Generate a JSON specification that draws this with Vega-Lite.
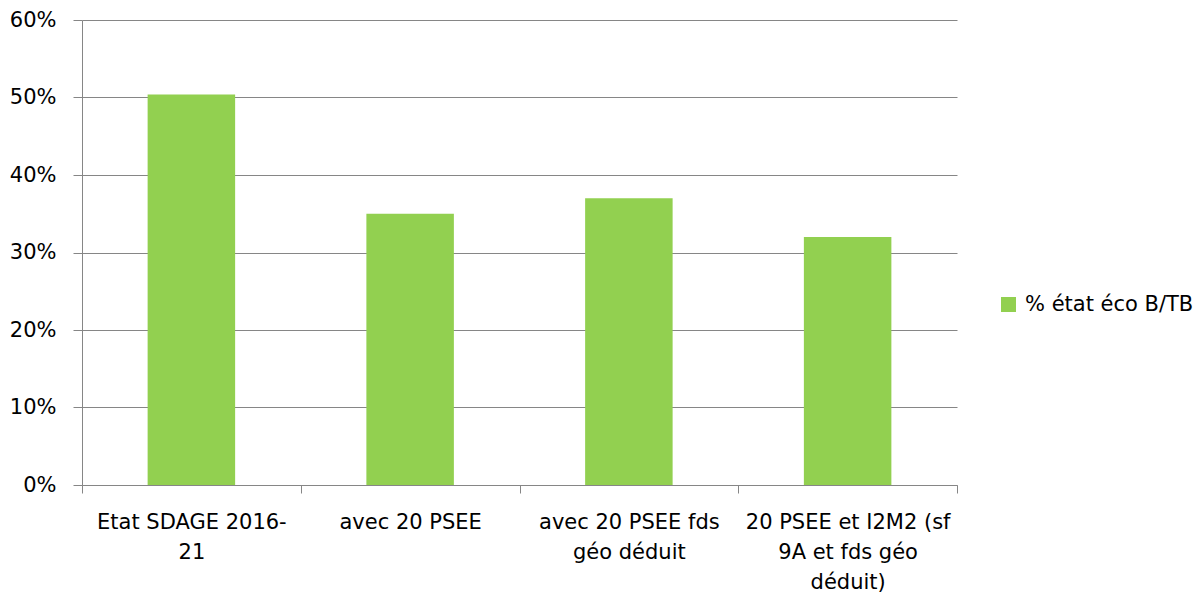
{
  "$schema": "https://vega.github.io/schema/vega-lite/v6.json",
  "autosize": {"type": "none"},
  "width": 875,
  "height": 465,
  "padding": {"left": 82, "top": 20, "right": 237, "bottom": 111},
  "background": "white",
  "config": {
    "view": {"stroke": null},
    "font": "DejaVu Sans",
    "axis": {"labelFont": "DejaVu Sans", "labelFontSize": 21, "labelColor": "#000000", "domainColor": "#868686", "tickColor": "#868686", "gridColor": "#868686", "domainWidth": 1, "tickWidth": 1, "gridWidth": 1}
  },
  "data": {
    "values": [
      {"categorie": "Etat SDAGE 2016-21", "serie": "% état éco B/TB", "valeur": 0.504},
      {"categorie": "avec 20 PSEE", "serie": "% état éco B/TB", "valeur": 0.35},
      {"categorie": "avec 20 PSEE fds géo déduit", "serie": "% état éco B/TB", "valeur": 0.37},
      {"categorie": "20 PSEE et I2M2 (sf 9A et fds géo déduit)", "serie": "% état éco B/TB", "valeur": 0.32}
    ]
  },
  "mark": {"type": "bar", "width": {"band": 0.4}},
  "encoding": {
    "x": {
      "field": "categorie",
      "type": "nominal",
      "sort": null,
      "scale": {"paddingInner": 0, "paddingOuter": 0},
      "axis": {
        "title": null,
        "labelAngle": 0,
        "tickBand": "extent",
        "tickSize": 8,
        "labelPadding": 18,
        "labelBaseline": "top",
        "labelLineHeight": 30,
        "labelLimit": 300,
        "labelExpr": "datum.value == 'Etat SDAGE 2016-21' ? ['Etat SDAGE 2016-', '21'] : datum.value == 'avec 20 PSEE fds géo déduit' ? ['avec 20 PSEE fds', 'géo déduit'] : datum.value == '20 PSEE et I2M2 (sf 9A et fds géo déduit)' ? ['20 PSEE et I2M2 (sf', '9A et fds géo', 'déduit)'] : datum.value"
      }
    },
    "y": {
      "field": "valeur",
      "type": "quantitative",
      "scale": {"domain": [0, 0.6], "nice": false, "zero": true},
      "axis": {
        "title": null,
        "tickCount": 6,
        "format": ".0%",
        "ticks": true,
        "tickSize": 9,
        "tickColor": "#868686",
        "tickWidth": 1,
        "labelPadding": 17,
        "grid": true
      }
    },
    "color": {
      "field": "serie",
      "type": "nominal",
      "scale": {"range": ["#92D050"]},
      "legend": {
        "title": null,
        "orient": "none",
        "legendX": 916,
        "legendY": 274,
        "symbolType": "square",
        "symbolSize": 225,
        "symbolStrokeWidth": 0,
        "symbolOpacity": 1,
        "labelFont": "DejaVu Sans",
        "labelFontSize": 21,
        "labelColor": "#000000",
        "labelOffset": 6,
        "labelLimit": 300
      }
    }
  }
}
